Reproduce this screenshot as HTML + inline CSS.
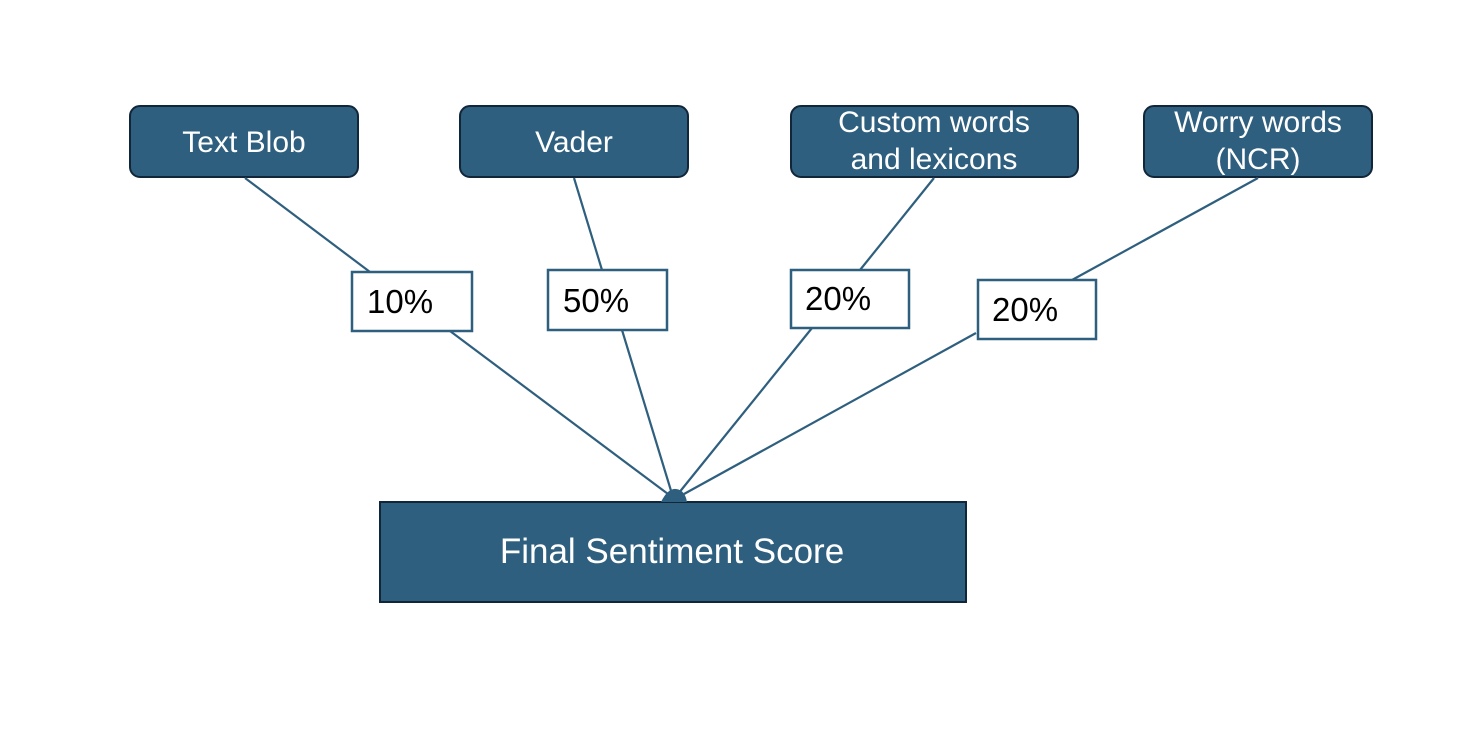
<html><body style="margin:0;background:#fff">
<svg width="1482" height="744" xmlns="http://www.w3.org/2000/svg" style="font-family:'Liberation Sans',sans-serif">
<g fill="#2f5f7e" stroke="#12263a" stroke-width="2">
<rect x="130" y="106" width="228" height="71" rx="10"/>
<rect x="460" y="106" width="228" height="71" rx="10"/>
<rect x="791" y="106" width="287" height="71" rx="10"/>
<rect x="1144" y="106" width="228" height="71" rx="10"/>
<rect x="380" y="502" width="586" height="100"/>
</g>
<g stroke="#2f5f7e" stroke-width="2.2" fill="none">
<line x1="245" y1="178" x2="370" y2="272"/><line x1="450" y1="331" x2="668" y2="494"/>
<line x1="574" y1="178" x2="602" y2="270"/><line x1="622" y1="330" x2="672" y2="494"/>
<line x1="934" y1="178" x2="860" y2="270"/><line x1="812" y1="328" x2="678" y2="494"/>
<line x1="1258" y1="178" x2="1072" y2="280"/><line x1="976" y1="333" x2="684" y2="494"/>
</g>
<path d="M661 502 Q668 488 676 489 Q685 490 687 502 Z" fill="#2f5f7e"/>
<g fill="#fff" stroke="#2f5f7e" stroke-width="2.5">
<rect x="352" y="272" width="120" height="59"/>
<rect x="548" y="270" width="119" height="60"/>
<rect x="791" y="270" width="118" height="58"/>
<rect x="978" y="280" width="118" height="59"/>
</g>
<g fill="#fff" font-size="30" text-anchor="middle">
<text x="244" y="152">Text Blob</text>
<text x="574" y="152">Vader</text>
<text x="934" y="132">Custom words</text>
<text x="934" y="169">and lexicons</text>
<text x="1258" y="132">Worry words</text>
<text x="1258" y="169">(NCR)</text>
<text x="672" y="563" font-size="35">Final Sentiment Score</text>
</g>
<g fill="#000" font-size="33">
<text x="367" y="313">10%</text>
<text x="563" y="312">50%</text>
<text x="805" y="310">20%</text>
<text x="992" y="321">20%</text>
</g>
</svg>
</body></html>
